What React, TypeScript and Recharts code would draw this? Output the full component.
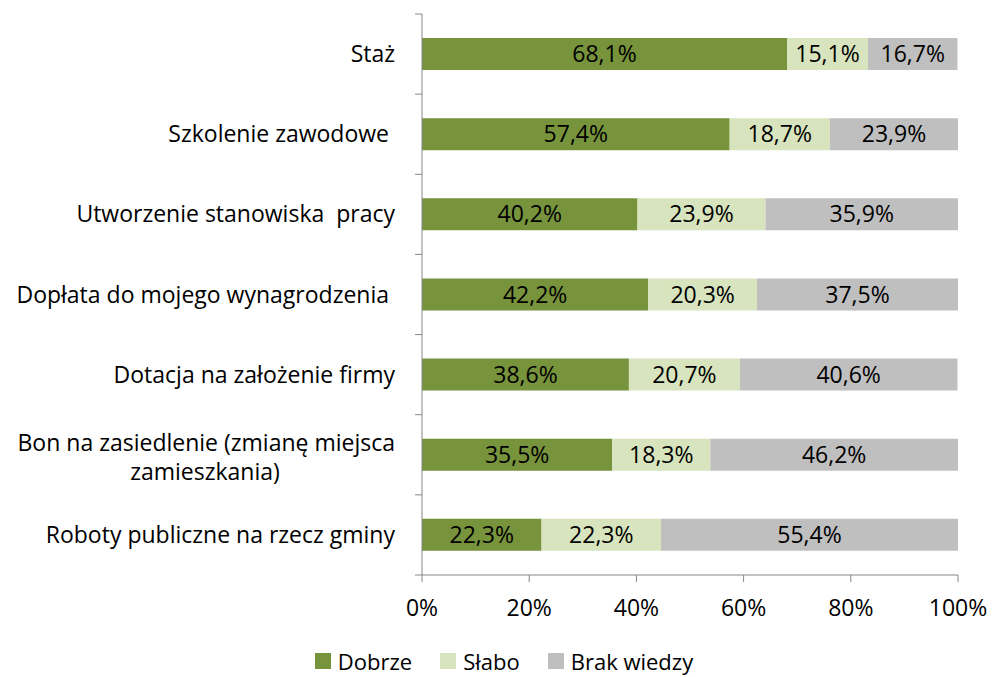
import React from 'react';
import { BarChart, Bar, XAxis, YAxis, Legend, LabelList } from 'recharts';

const categories = [
  'Staż',
  'Szkolenie zawodowe ',
  'Utworzenie stanowiska  pracy',
  'Dopłata do mojego wynagrodzenia ',
  'Dotacja na założenie firmy',
  'Bon na zasiedlenie (zmianę miejsca\nzamieszkania)',
  'Roboty publiczne na rzecz gminy',
];
const dobrze = [68.1, 57.4, 40.2, 42.2, 38.6, 35.5, 22.3];
const slabo = [15.1, 18.7, 23.9, 20.3, 20.7, 18.3, 22.3];
const brakWiedzy = [16.7, 23.9, 35.9, 37.5, 40.6, 46.2, 55.4];
const xTicks = [0, 20, 40, 60, 80, 100];

const seriesNames = ['Dobrze', 'Słabo', 'Brak wiedzy'];
const colors = ['#77933C', '#D7E4BD', '#BFBFBF'];

const W = 992;
const H = 677;
const LEGEND_H = 30;
const X_AXIS_H = 30;
// plot area should span y 14..575
const MARGIN = { top: 14, right: 34, bottom: 102 - X_AXIS_H - LEGEND_H, left: 0 };
const BAND = (H - 14 - 102) / categories.length;
const FONT = '"Open Sans", Lato, sans-serif';
const FS = 23;
const AXIS = '#868686';

const data = categories.map((name, i) => ({
  name,
  dobrze: dobrze[i],
  slabo: slabo[i],
  brak: brakWiedzy[i],
}));

const pct = (v: any) => `${Number(v).toFixed(1).replace('.', ',')}%`;

function CategoryTick(props: any) {
  const { x, y, payload, index } = props;
  const lines = String(payload.value).split('\n');
  const right = x - 27;
  const textProps = { fontSize: FS, fill: '#000', fontFamily: FONT, style: { whiteSpace: 'pre' as const } };
  return (
    <g>
      <line x1={x - 7} x2={x} y1={y - BAND / 2} y2={y - BAND / 2} stroke={AXIS} />
      {index === categories.length - 1 && (
        <line x1={x - 7} x2={x} y1={y + BAND / 2} y2={y + BAND / 2} stroke={AXIS} />
      )}
      {lines.length === 1 ? (
        <text x={right} y={y} dy={8} textAnchor="end" {...textProps}>
          {lines[0]}
        </text>
      ) : (
        <>
          <text x={right} y={y - 12} dy={8} textAnchor="end" {...textProps}>
            {lines[0]}
          </text>
          <text x={right - 190} y={y + 17} dy={8} textAnchor="middle" {...textProps}>
            {lines[1]}
          </text>
        </>
      )}
    </g>
  );
}

function LegendContent() {
  return (
    <div style={{ display: 'flex', justifyContent: 'center', alignItems: 'center', height: LEGEND_H, lineHeight: `${LEGEND_H}px`, fontFamily: FONT, fontSize: 22, color: '#000', paddingLeft: 16 }}>
      {seriesNames.map((n, i) => (
        <div key={n} style={{ display: 'flex', alignItems: 'center', marginRight: i < seriesNames.length - 1 ? 28 : 0 }}>
          <span style={{ width: 16, height: 16, background: colors[i], display: 'inline-block', marginRight: 7 }} />
          <span>{n}</span>
        </div>
      ))}
    </div>
  );
}

export default function App() {
  return (
    <div style={{ position: 'absolute', left: 0, top: 0, width: W, height: H, background: '#fff', fontFamily: FONT }}>
      <BarChart width={W} height={H} data={data} layout="vertical" margin={MARGIN}>
        <XAxis
          type="number"
          domain={[0, 100]}
          ticks={xTicks}
          tickFormatter={(v) => `${v}%`}
          axisLine={{ stroke: AXIS }}
          tickLine={{ stroke: AXIS }}
          tickSize={7}
          tickMargin={18}
          height={X_AXIS_H}
          tick={{ fontSize: FS, fill: '#000', fontFamily: FONT }}
          interval={0}
        />
        <YAxis
          type="category"
          dataKey="name"
          width={422}
          axisLine={{ stroke: AXIS }}
          tickLine={false}
          tickSize={0}
          tickMargin={0}
          tick={<CategoryTick />}
          interval={0}
        />
        <Legend
          layout="horizontal"
          verticalAlign="bottom"
          align="center"
          height={LEGEND_H}
          wrapperStyle={{ top: 646, left: 0, width: W }}
          content={<LegendContent />}
        />
        <Bar dataKey="dobrze" name={seriesNames[0]} stackId="a" fill={colors[0]} barSize={32} isAnimationActive={false}>
          <LabelList dataKey="dobrze" position="center" formatter={pct} fill="#000" fontSize={FS} fontFamily={FONT} />
        </Bar>
        <Bar dataKey="slabo" name={seriesNames[1]} stackId="a" fill={colors[1]} barSize={32} isAnimationActive={false}>
          <LabelList dataKey="slabo" position="center" formatter={pct} fill="#000" fontSize={FS} fontFamily={FONT} />
        </Bar>
        <Bar dataKey="brak" name={seriesNames[2]} stackId="a" fill={colors[2]} barSize={32} isAnimationActive={false}>
          <LabelList dataKey="brak" position="center" formatter={pct} fill="#000" fontSize={FS} fontFamily={FONT} />
        </Bar>
      </BarChart>
    </div>
  );
}
